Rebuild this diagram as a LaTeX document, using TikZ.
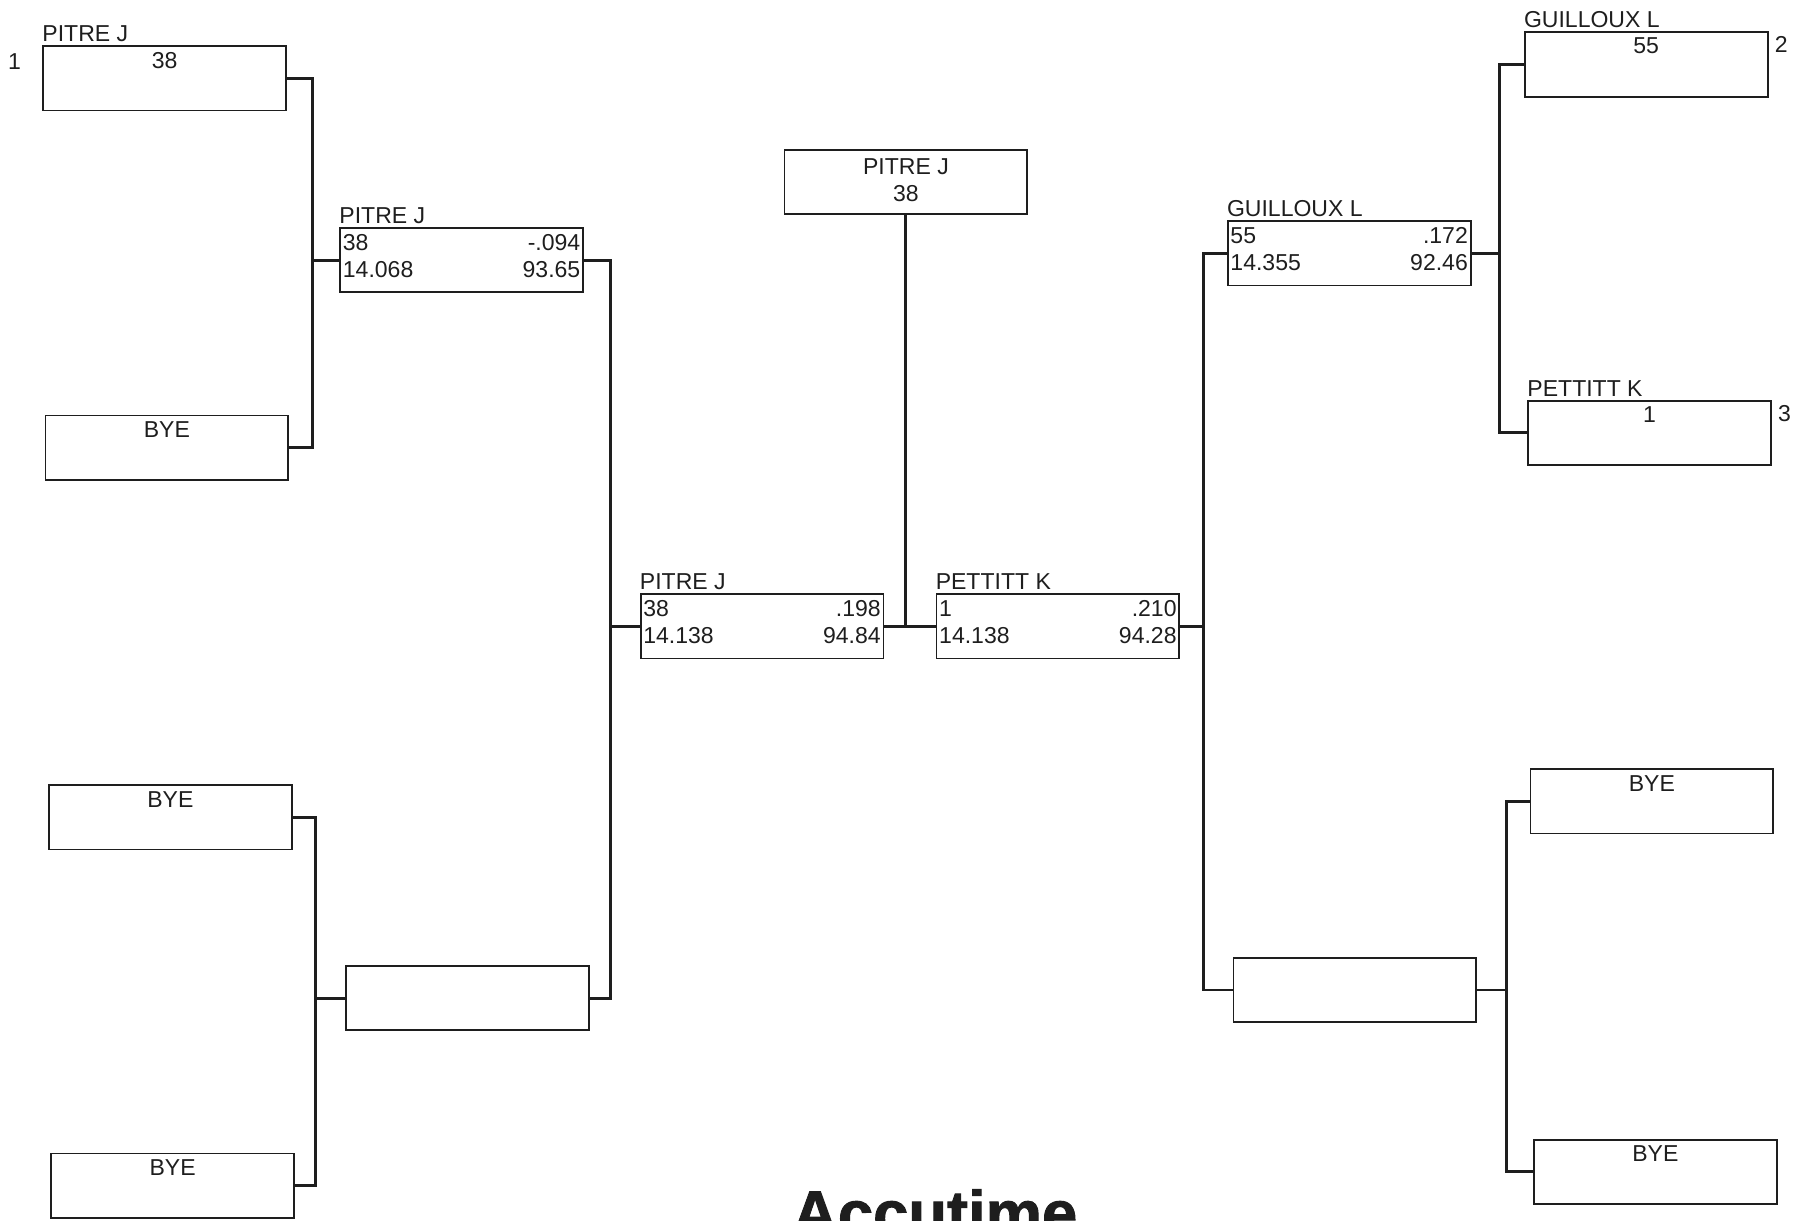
\documentclass[tikz,border=0pt]{standalone}
\usepackage{fontspec}
\setmainfont{Liberation Sans}
\newfontfamily\brandfont[BoldFeatures={FakeBold=1.5}]{Liberation Sans}
\usetikzlibrary{positioning, calc}
\definecolor{ink}{RGB}{30, 30, 30}
\tikzset{
  font=\fontsize{20}{24}\selectfont,
  entryblock/.style={
    rectangle, draw=ink, line width=1.6pt,
    minimum width=211pt, minimum height=56pt, inner sep=0pt
  },
  namelabel/.style={anchor=base west, inner sep=0pt, text=ink},
  celltext/.style={anchor=base, inner sep=0pt, text=ink},
  leftcell/.style={anchor=base west, inner sep=0pt, text=ink},
  rightcell/.style={anchor=base east, inner sep=0pt, text=ink},
  bracketline/.style={draw=ink, line width=2.6pt}
}

\begin{document}
\begin{tikzpicture}[x=1pt, y=-1pt]
  \useasboundingbox (0,0) rectangle (1568,1060);
  \clip (0,0) rectangle (1568,1060);

  % first round, left
  \node[entryblock] (a1) at (143,68) {};
  \node[namelabel] (a1n) at ([yshift=3pt]a1.north west) {PITRE J};
  \node[celltext] (a1s) at ([yshift=-20pt]a1.north) {38};
  \node[celltext] (a1k) at ([xshift=-24pt,yshift=-21pt]a1.north west) {1};
  \node[entryblock] (a2) at (145,389) {};
  \node[celltext] (a2s) at ([yshift=-20pt]a2.north) {BYE};
  \node[entryblock] (a3) at (148,710) {};
  \node[celltext] (a3s) at ([yshift=-20pt]a3.north) {BYE};
  \node[entryblock] (a4) at (150,1030) {};
  \node[celltext] (a4s) at ([yshift=-20pt]a4.north) {BYE};

  % second round, left
  \node[entryblock] (b1) at (401,226) {};
  \node[namelabel] (b1n) at ([yshift=3pt]b1.north west) {PITRE J};
  \node[leftcell] (b1a) at ([xshift=3pt,yshift=-20pt]b1.north west) {38};
  \node[rightcell] (b1b) at ([xshift=-3pt,yshift=-20pt]b1.north east) {-.094};
  \node[leftcell] (b1c) at ([xshift=3pt,yshift=-44pt]b1.north west) {14.068};
  \node[rightcell] (b1d) at ([xshift=-3pt,yshift=-44pt]b1.north east) {93.65};
  \node[entryblock] (b2) at (406,867) {};

  % final
  \node[entryblock] (c1) at (662,544) {};
  \node[namelabel] (c1n) at ([yshift=3pt]c1.north west) {PITRE J};
  \node[leftcell] (c1a) at ([xshift=3pt,yshift=-20pt]c1.north west) {38};
  \node[rightcell] (c1b) at ([xshift=-3pt,yshift=-20pt]c1.north east) {.198};
  \node[leftcell] (c1c) at ([xshift=3pt,yshift=-44pt]c1.north west) {14.138};
  \node[rightcell] (c1d) at ([xshift=-3pt,yshift=-44pt]c1.north east) {94.84};
  \node[entryblock] (c2) at (919,544) {};
  \node[namelabel] (c2n) at ([yshift=3pt]c2.north west) {PETTITT K};
  \node[leftcell] (c2a) at ([xshift=3pt,yshift=-20pt]c2.north west) {1};
  \node[rightcell] (c2b) at ([xshift=-3pt,yshift=-20pt]c2.north east) {.210};
  \node[leftcell] (c2c) at ([xshift=3pt,yshift=-44pt]c2.north west) {14.138};
  \node[rightcell] (c2d) at ([xshift=-3pt,yshift=-44pt]c2.north east) {94.28};

  % winner
  \node[entryblock] (ch) at (787,158) {};
  \node[celltext] (chn) at ([yshift=-22pt]ch.north) {PITRE J};
  \node[celltext] (chs) at ([yshift=-46pt]ch.north) {38};

  % second round, right
  \node[entryblock] (d1) at (1172,220) {};
  \node[namelabel] (d1n) at ([yshift=3pt]d1.north west) {GUILLOUX L};
  \node[leftcell] (d1a) at ([xshift=3pt,yshift=-20pt]d1.north west) {55};
  \node[rightcell] (d1b) at ([xshift=-3pt,yshift=-20pt]d1.north east) {.172};
  \node[leftcell] (d1c) at ([xshift=3pt,yshift=-44pt]d1.north west) {14.355};
  \node[rightcell] (d1d) at ([xshift=-3pt,yshift=-44pt]d1.north east) {92.46};
  \node[entryblock] (d2) at (1177,860) {};

  % first round, right
  \node[entryblock] (e1) at (1430,56) {};
  \node[namelabel] (e1n) at ([yshift=3pt]e1.north west) {GUILLOUX L};
  \node[celltext] (e1s) at ([yshift=-19pt]e1.north) {55};
  \node[celltext] (e1k) at ([xshift=11pt,yshift=-18pt]e1.north east) {2};
  \node[entryblock] (e2) at (1433,376) {};
  \node[namelabel] (e2n) at ([yshift=3pt]e2.north west) {PETTITT K};
  \node[celltext] (e2s) at ([yshift=-20pt]e2.north) {1};
  \node[celltext] (e2k) at ([xshift=11pt,yshift=-19pt]e2.north east) {3};
  \node[entryblock] (e3) at (1435,696) {};
  \node[celltext] (e3s) at ([yshift=-20pt]e3.north) {BYE};
  \node[entryblock] (e4) at (1438,1018) {};
  \node[celltext] (e4s) at ([yshift=-20pt]e4.north) {BYE};

  % brackets
  \draw[bracketline] (a1.east) -- ++(22,0) coordinate (j1) |- (a2.east);
  \draw[bracketline] (j1 |- b1.west) -- (b1.west);
  \draw[bracketline] (a3.east) -- ++(20,0) coordinate (j2) |- (a4.east);
  \draw[bracketline] (j2 |- b2.west) -- (b2.west);
  \draw[bracketline] (b1.east) -- ++(23,0) coordinate (j3) |- (b2.east);
  \draw[bracketline] (j3 |- c1.west) -- (c1.west);
  \draw[bracketline] (c1.east) -- (c2.west);
  \draw[bracketline] (ch.south) -- (ch.south |- c1.east);
  \draw[bracketline] (d1.west) -- ++(-20,0) coordinate (j5) |- (d2.west);
  \draw[bracketline] (j5 |- c2.east) -- (c2.east);
  \draw[bracketline] (e1.west) -- ++(-21,0) coordinate (j6) |- (e2.west);
  \draw[bracketline] (j6 |- d1.east) -- (d1.east);
  \draw[bracketline] (e3.west) -- ++(-20,0) coordinate (j7) |- (e4.west);
  \draw[bracketline] (j7 |- d2.east) -- (d2.east);

  % logo, cut by the page edge
  \node[anchor=base, inner sep=0pt, text=ink,
        font=\brandfont\bfseries\fontsize{55}{60}\selectfont] (brand) at (812,1073) {Accutime};
\end{tikzpicture}
\end{document}
